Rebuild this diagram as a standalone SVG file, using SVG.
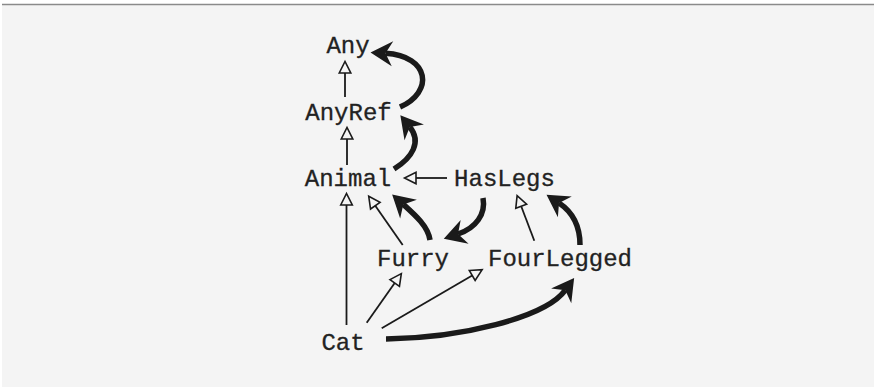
<svg xmlns="http://www.w3.org/2000/svg" width="876" height="387" viewBox="0 0 876 387">
<style>
  .lbl { font-family: "Liberation Mono", "DejaVu Sans Mono", monospace; font-size: 24px; fill: #222; stroke: #222; stroke-width: 0.3; text-anchor: middle; }
  .thin { fill: none; stroke: #1a1a1a; stroke-width: 1.8; marker-end: url(#open); }
  .thick { fill: none; stroke: #1a1a1a; stroke-width: 5.5; stroke-linecap: butt; marker-end: url(#solid); }
</style>
<defs>
  <marker id="open" markerUnits="userSpaceOnUse" markerWidth="20" markerHeight="20" refX="2" refY="10" orient="auto" viewBox="0 0 20 20">
    <path d="M2,4.2 L13.5,10 L2,15.8 Z" fill="#f4f4f4" stroke="#1a1a1a" stroke-width="1.6" stroke-linejoin="miter"/>
  </marker>
  <marker id="solid" markerUnits="userSpaceOnUse" markerWidth="32" markerHeight="32" refX="10" refY="16" orient="auto" viewBox="0 0 32 32">
    <path d="M25,16 L3,3.5 L10,16 L3,28.5 Z" fill="#1a1a1a"/>
  </marker>
</defs>
<rect x="0" y="0" width="876" height="387" fill="#ffffff"/>
<rect x="2" y="4" width="872" height="383" fill="#f4f4f4"/>
<line x1="2" y1="4.5" x2="874" y2="4.5" stroke="#8a8a8a" stroke-width="1.5"/>

<g id="connectors">
  <path class="thin" d="M345,97 L345,73"/>
  <path class="thin" d="M347,165 L347,139"/>
  <path class="thin" d="M447,178 L416,178"/>
  <path class="thin" d="M346.5,325 L346.5,205"/>
  <path class="thin" d="M402.7,245 L375.3,205.7"/>
  <path class="thin" d="M534.3,240.7 L521.2,206.3"/>
  <path class="thin" d="M366.7,322.7 L394.7,283"/>
  <path class="thin" d="M381.7,328.3 L472.2,275.5"/>

  <path class="thick" d="M400,107 C434,92 430,56 385.5,53.3"/>
  <path class="thick" d="M394,169 C412,158 422,142 409.8,127"/>
  <path class="thick" d="M430,240 C428,226 414,214 403.3,204.4"/>
  <path class="thick" d="M483,198 C486,214 476,228 458,234"/>
  <path class="thick" d="M580,245 C580,228 574,213 559,203"/>
  <path class="thick" d="M386,339 C460,338 545,318 565.3,290.2"/>
</g>

<g id="node-any"><text class="lbl" x="348" y="53">Any</text></g>
<g id="node-anyref"><text class="lbl" x="348.5" y="120">AnyRef</text></g>
<g id="node-animal"><text class="lbl" x="348" y="186">Animal</text></g>
<g id="node-haslegs"><text class="lbl" x="504.5" y="186">HasLegs</text></g>
<g id="node-furry"><text class="lbl" x="413" y="266">Furry</text></g>
<g id="node-fourlegged"><text class="lbl" x="560" y="266">FourLegged</text></g>
<g id="node-cat"><text class="lbl" x="343" y="350">Cat</text></g>
</svg>
